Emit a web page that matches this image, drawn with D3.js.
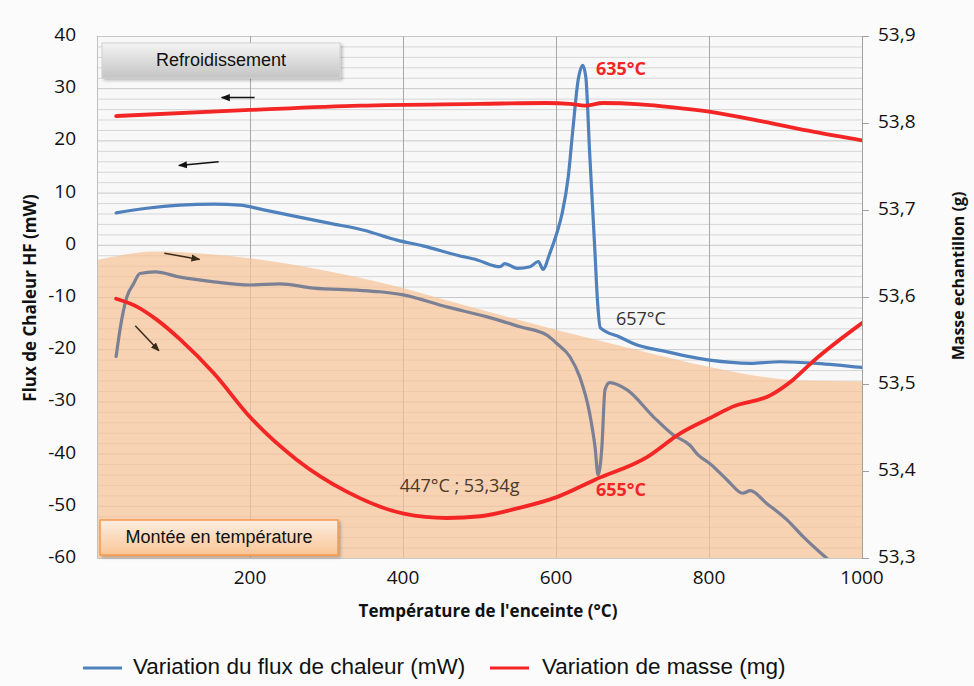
<!DOCTYPE html>
<html><head><meta charset="utf-8">
<script src="https://cdn.jsdelivr.net/npm/d3@7"></script>
<style>
html,body{margin:0;padding:0;background:#fbfbfb;}
svg{display:block;}
</style></head>
<body>
<svg id="chart" width="974" height="686"></svg>
<script>
// ---------- DATA ----------
// Cooling heat flux (blue, left axis, mW)
const coolFluxT = [25,65,108,153,187,218,261,305,349,392,426,471,497,527,533,549,566,577,583,592,601,608,616,622,629,635,639,644,651,654,658,684,701,745,801,854,893,941,1000];
const coolFluxV = [6.1,7.0,7.6,7.8,7.6,6.7,5.4,4.1,2.8,0.9,-0.2,-2.0,-2.9,-4.2,-3.6,-4.5,-4.2,-3.2,-4.7,-1.6,2.2,6.0,13.0,22.0,31.6,34.4,32.1,17.6,-1.6,-10.2,-15.9,-17.7,-18.9,-20.5,-22.1,-22.7,-22.4,-22.7,-23.5];
// Heating heat flux (grey, left axis, mW)
const heatFluxT = [25,30,39,48,56,76,109,153,200,239,283,340,370,400,457,510,553,588,601,618,631,644,651,655,660,664,670,693,727,753,775,786,801,824,844,854,875,902,923,955];
const heatFluxV = [-21.4,-16.3,-10.0,-7.4,-5.5,-5.2,-6.2,-7.1,-7.7,-7.5,-8.3,-8.7,-9.0,-9.6,-11.9,-13.8,-15.7,-17.3,-18.9,-21.4,-25.3,-32.3,-38.7,-44.1,-38.7,-27.8,-26.4,-27.8,-32.9,-36.4,-38.4,-40.3,-41.9,-45.1,-47.6,-47.1,-49.5,-52.7,-55.9,-60.2];
// Cooling mass (red, right axis, g)
const coolMassT = [25,200,344,501,588,618,638,661,710,753,800,871,936,1000];
const coolMassV = [53.808,53.815,53.820,53.822,53.823,53.822,53.820,53.823,53.8215,53.818,53.813,53.8015,53.790,53.780];
// Heating mass (red, right axis, g)
const heatMassT = [25,52,78,109,153,200,261,327,401,457,501,549,601,651,719,762,805,831,880,910,936,1000];
const heatMassV = [53.598,53.589,53.574,53.551,53.512,53.462,53.413,53.376,53.351,53.346,53.348,53.357,53.370,53.390,53.416,53.443,53.4625,53.474,53.487,53.505,53.526,53.570];
// Heating zone shading upper boundary (left axis units)
const zoneT = [0,78,131,200,261,327,392,457,601,697,801,910,1000];
const zoneV = [-2.9,-1.3,-1.6,-2.6,-3.9,-5.8,-8.0,-10.6,-16.3,-19.8,-23.4,-25.9,-26.2];

const xTicks = [200,400,600,800,1000];
const yLeftTicks = [40,30,20,10,0,-10,-20,-30,-40,-50,-60];
const yRightTicks = [53.9,53.8,53.7,53.6,53.5,53.4,53.3];

const legendLabels = ["Variation du flux de chaleur (mW)","Variation de masse (mg)"];
const seriesColors = {blue:"#4f81bd", red:"#f42525", grey:"#7b8094"};

// annotation arrows [x1,y1,x2,y2] in data units (T, left-axis value)
const arrows = [
  {p:[206,28.2,163,28.2], c:"#111"},
  {p:[159,15.9,107,15.2], c:"#111"},
  {p:[88,-1.6,134,-2.8], c:"#3a2a18"},
  {p:[50,-15.5,81,-20.3], c:"#3a2a18"}
];
const labels = [
  {t:"635°C", x:685, y:33.5, c:"#f42525", w:"bold"},
  {t:"657°C", x:711, y:-14.4, c:"#333", w:"normal"},
  {t:"655°C", x:685, y:-47.2, c:"#f42525", w:"bold"},
  {t:"447°C ; 53,34g", x:474, y:-46.4, c:"#4a3a28", w:"normal"}
];

// ---------- CHART ----------
const svg = d3.select("#chart");
const L=97, R=862, T=36, B=558;
const x = d3.scaleLinear().domain([0,1000]).range([L,R]);
const y = d3.scaleLinear().domain([-60,40]).range([B,T]);
const y2 = d3.scaleLinear().domain([53.3,53.9]).range([B,T]);

const defs = svg.append("defs");
defs.append("clipPath").attr("id","clip").append("rect").attr("x",L).attr("y",T).attr("width",R-L).attr("height",B-T);
const g1 = defs.append("linearGradient").attr("id","gGrey").attr("x1",0).attr("y1",0).attr("x2",0).attr("y2",1);
g1.append("stop").attr("offset","0%").attr("stop-color","#f4f4f4");
g1.append("stop").attr("offset","100%").attr("stop-color","#c4c4c4");
const g2 = defs.append("linearGradient").attr("id","gOrange").attr("x1",0).attr("y1",0).attr("x2",0).attr("y2",1);
g2.append("stop").attr("offset","0%").attr("stop-color","#fdeee2");
g2.append("stop").attr("offset","100%").attr("stop-color","#f9c596");
const sh = defs.append("filter").attr("id","shadow").attr("x","-10%").attr("y","-20%").attr("width","130%").attr("height","160%");
sh.append("feDropShadow").attr("dx",2).attr("dy",2).attr("stdDeviation",1.5).attr("flood-color","#000").attr("flood-opacity",0.25);

// plot background
svg.append("rect").attr("x",L).attr("y",T).attr("width",R-L).attr("height",B-T).attr("fill","#f8f8f8");

// horizontal minor gridlines every 2 units
const minor = d3.range(-60,40.01,2);
svg.append("g").selectAll("line").data(minor).join("line")
  .attr("x1",L).attr("x2",R).attr("y1",d=>y(d)+0.5).attr("y2",d=>y(d)+0.5)
  .attr("stroke",d=> d%10===0 ? "#c8c8c8" : "#d6d6d6").attr("stroke-width",1);
// vertical gridlines
svg.append("g").selectAll("line").data([200,400,600,800]).join("line")
  .attr("x1",d=>Math.round(x(d))+0.5).attr("x2",d=>Math.round(x(d))+0.5).attr("y1",T).attr("y2",B)
  .attr("stroke","#a8a8a8").attr("stroke-width",1);

// heating zone shading
const zone = zoneT.map((t,i)=>[t,zoneV[i]]);
svg.append("path").datum(zone)
  .attr("d", d3.area().x(d=>x(d[0])).y0(y(-60)).y1(d=>y(d[1])).curve(d3.curveMonotoneX))
  .attr("fill","#f7c396").attr("opacity",0.7);

// axes lines
svg.append("line").attr("x1",L+0.5).attr("x2",L+0.5).attr("y1",T).attr("y2",B).attr("stroke","#c0c0c0");
svg.append("line").attr("x1",L).attr("x2",R+6).attr("y1",B+0.5).attr("y2",B+0.5).attr("stroke","#c8c8c8");
svg.append("line").attr("x1",R+0.5).attr("x2",R+0.5).attr("y1",T).attr("y2",B).attr("stroke","#a0a0a0");
svg.append("g").selectAll("line").data(yRightTicks).join("line")
  .attr("x1",R).attr("x2",R+7).attr("y1",d=>Math.round(y2(d))+0.5).attr("y2",d=>Math.round(y2(d))+0.5)
  .attr("stroke","#a0a0a0");

// boxes
const box1 = svg.append("g");
box1.append("rect").attr("x",102).attr("y",43).attr("width",238).attr("height",35)
  .attr("fill","url(#gGrey)").attr("stroke","#d0d0d0").attr("filter","url(#shadow)");
box1.append("text").attr("x",221).attr("y",61).attr("text-anchor","middle").attr("dominant-baseline","middle")
  .attr("font-family","Liberation Sans, Arial, sans-serif").attr("font-size",18).attr("fill","#111").text("Refroidissement");

// lines
const plot = svg.append("g").attr("clip-path","url(#clip)");
const lineL = d3.line().x(d=>x(d[0])).y(d=>y(d[1])).curve(d3.curveMonotoneX);
const lineR = d3.line().x(d=>x(d[0])).y(d=>y2(d[1])).curve(d3.curveMonotoneX);
plot.append("path").datum(heatFluxT.map((t,i)=>[t,heatFluxV[i]]))
  .attr("d",lineL).attr("fill","none").attr("stroke",seriesColors.grey).attr("stroke-width",3.2).attr("stroke-linejoin","round").attr("stroke-linecap","round");
plot.append("path").datum(coolFluxT.map((t,i)=>[t,coolFluxV[i]]))
  .attr("d",lineL).attr("fill","none").attr("stroke",seriesColors.blue).attr("stroke-width",3.2).attr("stroke-linejoin","round").attr("stroke-linecap","round");
plot.append("path").datum(heatMassT.map((t,i)=>[t,heatMassV[i]]))
  .attr("d",lineR).attr("fill","none").attr("stroke",seriesColors.red).attr("stroke-width",3.8).attr("stroke-linejoin","round").attr("stroke-linecap","round");
plot.append("path").datum(coolMassT.map((t,i)=>[t,coolMassV[i]]))
  .attr("d",lineR).attr("fill","none").attr("stroke",seriesColors.red).attr("stroke-width",3.8).attr("stroke-linejoin","round").attr("stroke-linecap","round");

// box 2
const box2 = svg.append("g");
box2.append("rect").attr("x",100).attr("y",520).attr("width",238).attr("height",35)
  .attr("fill","url(#gOrange)").attr("stroke","#f59a4c").attr("stroke-width",1.5).attr("filter","url(#shadow)");
box2.append("text").attr("x",219).attr("y",538).attr("text-anchor","middle").attr("dominant-baseline","middle")
  .attr("font-family","Liberation Sans, Arial, sans-serif").attr("font-size",18).attr("fill","#111").text("Montée en température");

// arrows
arrows.forEach((a,i)=>{
  const mid = "ah"+i;
  defs.append("marker").attr("id",mid).attr("viewBox","0 0 10 10").attr("refX",9).attr("refY",5)
    .attr("markerWidth",9).attr("markerHeight",9).attr("markerUnits","userSpaceOnUse").attr("orient","auto")
    .append("path").attr("d","M0,1 L10,5 L0,9 Z").attr("fill",a.c);
  svg.append("line").attr("x1",x(a.p[0])).attr("y1",y(a.p[1])).attr("x2",x(a.p[2])).attr("y2",y(a.p[3]))
    .attr("stroke",a.c).attr("stroke-width",1.5).attr("marker-end","url(#"+mid+")");
});

// annotation labels
svg.append("g").selectAll("text").data(labels).join("text")
  .attr("x",d=>x(d.x)).attr("y",d=>y(d.y)).attr("text-anchor","middle").attr("dominant-baseline","middle")
  .attr("font-family","Open Sans, sans-serif").attr("font-size",18).attr("font-weight",d=>d.w)
  .attr("fill",d=>d.c).text(d=>d.t);

// tick labels
const tickFont = "Open Sans, sans-serif";
svg.append("g").selectAll("text").data(yLeftTicks).join("text")
  .attr("x",76).attr("y",d=>y(d)).attr("text-anchor","end").attr("dominant-baseline","middle")
  .attr("font-family",tickFont).attr("font-size",19).attr("fill","#111").text(d=>String(d));
svg.append("g").selectAll("text").data(yRightTicks).join("text")
  .attr("x",878).attr("y",d=>y2(d)).attr("text-anchor","start").attr("dominant-baseline","middle")
  .attr("font-family",tickFont).attr("font-size",19).attr("fill","#111").text(d=>d.toFixed(1).replace(".",","));
svg.append("g").selectAll("text").data(xTicks).join("text")
  .attr("x",d=>x(d)).attr("y",579).attr("text-anchor","middle").attr("dominant-baseline","middle")
  .attr("font-family",tickFont).attr("font-size",19).attr("fill","#111").text(d=>String(d));

// axis titles
svg.append("text").attr("transform","translate(31,298) rotate(-90)").attr("text-anchor","middle").attr("dominant-baseline","middle")
  .attr("font-family","Open Sans, sans-serif").attr("font-weight","bold").attr("font-size",17).attr("fill","#111")
  .text("Flux de Chaleur HF (mW)");
svg.append("text").attr("transform","translate(960,276) rotate(-90)").attr("text-anchor","middle").attr("dominant-baseline","middle")
  .attr("font-family","Open Sans, sans-serif").attr("font-weight","bold").attr("font-size",16).attr("fill","#111")
  .text("Masse echantillon (g)");
svg.append("text").attr("x",488).attr("y",612).attr("text-anchor","middle").attr("dominant-baseline","middle")
  .attr("font-family","Open Sans, sans-serif").attr("font-weight","bold").attr("font-size",17).attr("fill","#111")
  .text("Température de l'enceinte (°C)");

// legend
const leg = svg.append("g");
const legItems = [{x:83, tx:133, c:seriesColors.blue, t:legendLabels[0]}, {x:490, tx:542, c:seriesColors.red, t:legendLabels[1]}];
legItems.forEach(it=>{
  leg.append("line").attr("x1",it.x).attr("x2",it.x+39).attr("y1",668).attr("y2",668).attr("stroke",it.c).attr("stroke-width",3);
  leg.append("text").attr("x",it.tx).attr("y",668).attr("dominant-baseline","middle")
    .attr("font-family","Liberation Sans, Arial, sans-serif").attr("font-size",22.5).attr("fill","#111").text(it.t);
});
</script>
</body></html>
